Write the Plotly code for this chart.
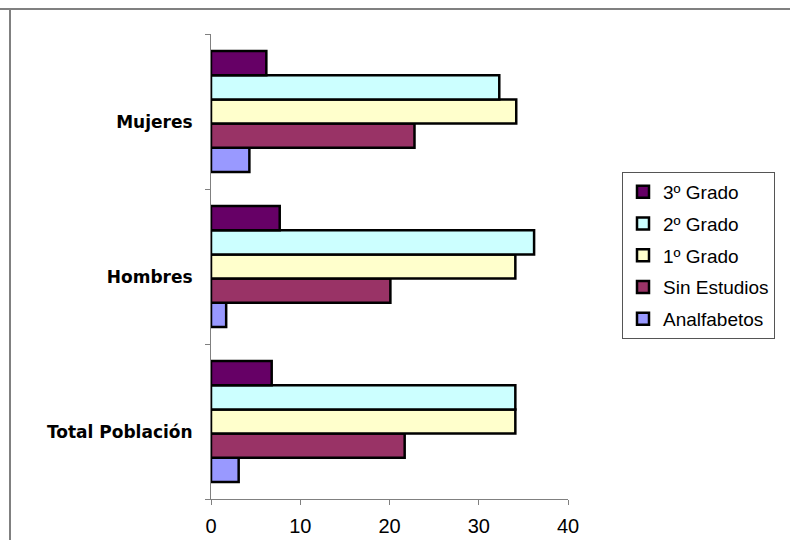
import plotly.graph_objects as go

categories = ["Total Población", "Hombres", "Mujeres"]
series_names = ["Analfabetos", "Sin Estudios", "1º Grado", "2º Grado", "3º Grado"]
analfabetos = [3.1, 1.7, 4.3]
sin_estudios = [21.7, 20.1, 22.8]
primer_grado = [34.1, 34.1, 34.2]
segundo_grado = [34.1, 36.2, 32.3]
tercer_grado = [6.8, 7.7, 6.2]
x_ticks = [0, 10, 20, 30, 40]

colors = ["#9999FF", "#993366", "#FFFFCC", "#CCFFFF", "#660066"]
values = [analfabetos, sin_estudios, primer_grado, segundo_grado, tercer_grado]

fig = go.Figure()
n = len(series_names)
for i, (name, vals, col) in enumerate(zip(series_names, values, colors)):
    fig.add_trace(go.Bar(
        y=categories, x=vals, name=name, orientation="h",
        marker=dict(color=col, line=dict(color="black", width=2.5)),
        legendgroup=name, legendrank=n - i,
    ))

L, R, T, B = 211, 222, 34, 41
W, H = 790, 540
pw = W - L - R
ph = H - T - B

def px_x(p):
    return (p - L) / pw

def px_y(p):
    return (H - B - p) / ph

fig.update_layout(
    width=W, height=H,
    margin=dict(l=L, r=R, t=T, b=B, pad=0, autoexpand=False),
    paper_bgcolor="white", plot_bgcolor="white",
    barmode="group", bargap=0.22, bargroupgap=0,
    font=dict(family="Liberation Sans, Arial", color="black"),
    legend=dict(
        x=px_x(622), y=px_y(172), xanchor="left", yanchor="top",
        traceorder="grouped", bordercolor="#555555", borderwidth=1,
        font=dict(size=19, family="Liberation Sans, Arial"),
        tracegroupgap=4, itemwidth=30,
    ),
    xaxis=dict(
        range=[0, 40], tickvals=x_ticks, showgrid=False, zeroline=False,
        showline=True, linecolor="#808080", linewidth=1,
        ticks="outside", ticklen=5, tickcolor="#808080",
        tickfont=dict(size=20, family="Liberation Sans, Arial"),
        ticklabelstandoff=4,
    ),
    yaxis=dict(
        categoryorder="array", categoryarray=categories,
        showgrid=False, zeroline=False,
        showline=True, linecolor="#808080", linewidth=1,
        ticks="outside", ticklen=5, tickcolor="#808080", tickson="boundaries",
        tickfont=dict(size=17, family="DejaVu Sans", weight="bold"),
        ticklabelstandoff=14, ticklabelshift=11,
    ),
    shapes=[
        dict(type="line", xref="paper", yref="paper",
             x0=px_x(0), x1=px_x(790), y0=px_y(9), y1=px_y(9),
             line=dict(color="#808080", width=2)),
        dict(type="line", xref="paper", yref="paper",
             x0=px_x(10), x1=px_x(10), y0=px_y(9), y1=px_y(540),
             line=dict(color="#808080", width=2)),
    ],
)

fig.write_html("out.html", config={"displayModeBar": False},
               post_script="document.body.style.margin='0';")
